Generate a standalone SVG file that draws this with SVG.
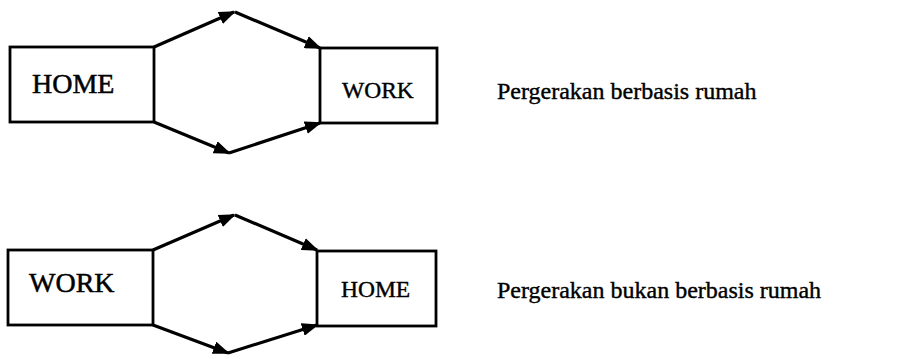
<svg xmlns="http://www.w3.org/2000/svg" width="923" height="359" viewBox="0 0 923 359">
  <style>
    .box { fill: #fff; stroke: #000; stroke-width: 2.8; }
    .big { font-family: "Liberation Serif", "Times New Roman", serif; font-size: 28px; fill: #000; stroke: #000; stroke-width: 0.5; }
    .small { font-family: "Liberation Serif", "Times New Roman", serif; font-size: 23.5px; fill: #000; stroke: #000; stroke-width: 0.4; }
    .label { font-family: "Liberation Serif", "Times New Roman", serif; font-size: 24px; fill: #000; stroke: #000; stroke-width: 0.4; }
    .link { stroke: #000; stroke-width: 3.2; fill: none; marker-end: url(#head); }
  </style>
  <defs>
    <marker id="head" markerUnits="userSpaceOnUse" markerWidth="17" markerHeight="13" refX="15" refY="6.5" orient="auto">
      <path d="M0,0 L17,6.5 L0,13 z" fill="#000"/>
    </marker>
  </defs>
  <rect width="923" height="359" fill="#fff"/>

  <!-- connectors -->
  <g id="connectors">
    <line class="link" x1="154" y1="47" x2="234" y2="12"/>
    <line class="link" x1="235" y1="12" x2="320" y2="48"/>
    <line class="link" x1="154" y1="122" x2="229" y2="153"/>
    <line class="link" x1="229" y1="153" x2="320" y2="123"/>

    <line class="link" x1="153" y1="250" x2="234" y2="215"/>
    <line class="link" x1="235" y1="215" x2="317" y2="250"/>
    <line class="link" x1="153" y1="325" x2="228" y2="353"/>
    <line class="link" x1="228" y1="353" x2="317" y2="325"/>
  </g>

  <!-- home-based trip -->
  <g id="home1">
    <rect class="box" x="10" y="47" width="144" height="75"/>
    <text class="big" x="32" y="93">HOME</text>
  </g>
  <g id="work1">
    <rect class="box" x="320" y="48" width="117" height="75"/>
    <text class="small" x="342" y="98">WORK</text>
  </g>
  <text class="label" x="497" y="99">Pergerakan berbasis rumah</text>

  <!-- non-home-based trip -->
  <g id="work2">
    <rect class="box" x="8" y="250" width="145" height="75"/>
    <text class="big" x="29" y="292">WORK</text>
  </g>
  <g id="home2">
    <rect class="box" x="317" y="251" width="119" height="75"/>
    <text class="small" x="341" y="297">HOME</text>
  </g>
  <text class="label" x="497" y="298">Pergerakan bukan berbasis rumah</text>
</svg>
